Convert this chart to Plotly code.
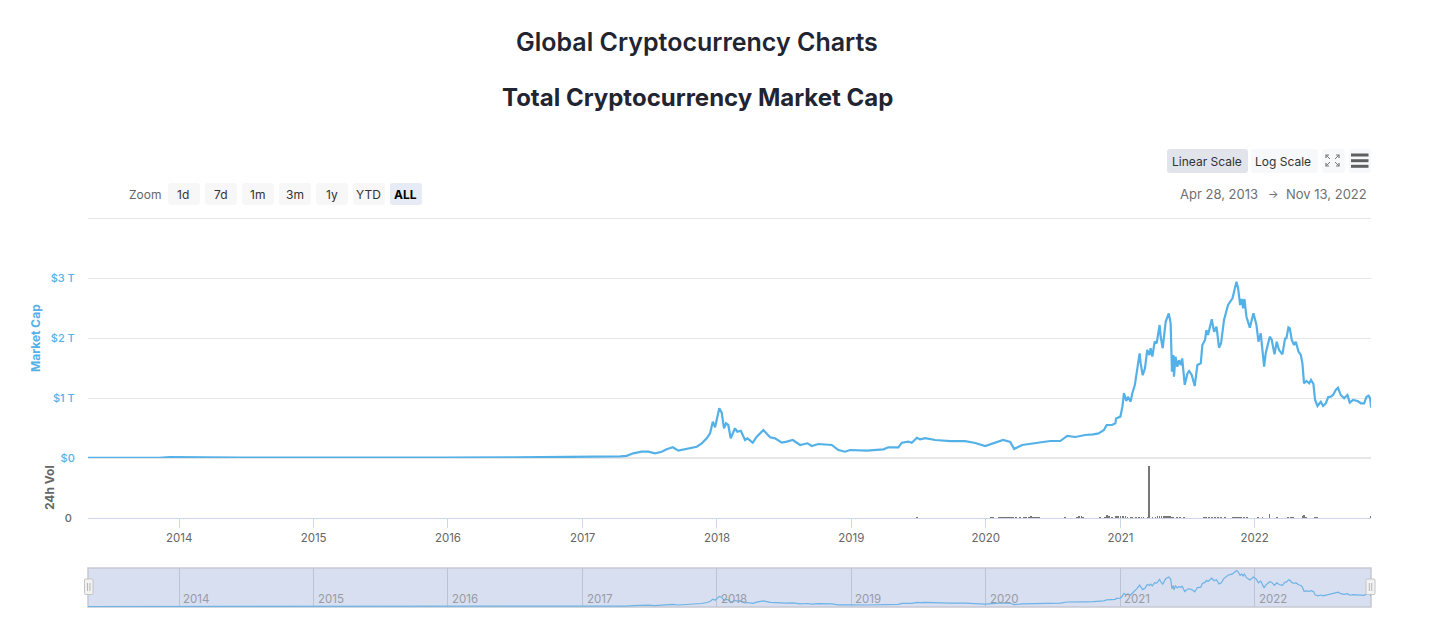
import pandas as pd
import plotly.graph_objects as go

W, H = 1443, 620

cap_year = [2013.32, 2013.5, 2013.7, 2013.85, 2013.93, 2014.0, 2014.2, 2014.45, 2014.8, 2015.0, 2015.5, 2016.0, 2016.5, 2016.9, 2017.128, 2017.28, 2017.327,
    2017.377, 2017.439, 2017.488, 2017.538, 2017.588, 2017.625, 2017.67, 2017.712, 2017.786, 2017.849, 2017.886, 2017.923, 2017.948, 2017.968, 2017.985, 2018.017, 2018.035, 2018.052, 2018.067, 2018.084, 2018.102, 2018.134, 2018.151, 2018.177, 2018.209, 2018.226, 2018.266, 2018.296, 2018.345, 2018.395, 2018.432, 2018.482, 2018.519, 2018.564, 2018.618, 2018.673, 2018.705, 2018.754, 2018.854, 2018.903, 2018.953, 2018.99, 2019.115, 2019.239, 2019.276, 2019.35, 2019.376, 2019.425, 2019.45, 2019.488, 2019.512,
    2019.55, 2019.624, 2019.736, 2019.847, 2019.922, 2019.996, 2020.07, 2020.13, 2020.183, 2020.212, 2020.272, 2020.37, 2020.48, 2020.555, 2020.607, 2020.667, 2020.741,
    2020.80, 2020.84, 2020.88, 2020.90, 2020.94, 2020.965, 2020.97, 2021.0, 2021.015, 2021.027, 2021.044, 2021.056, 2021.076, 2021.089, 2021.108, 2021.126, 2021.143, 2021.151, 2021.166, 2021.183, 2021.20, 2021.216, 2021.225, 2021.238, 2021.255, 2021.27, 2021.292, 2021.30, 2021.315, 2021.337, 2021.36, 2021.374, 2021.384, 2021.394, 2021.399, 2021.41, 2021.424, 2021.436, 2021.449, 2021.46, 2021.479, 2021.499,
    2021.511, 2021.531, 2021.553, 2021.573, 2021.598, 2021.61, 2021.63, 2021.64, 2021.652, 2021.68, 2021.697, 2021.715, 2021.734, 2021.749, 2021.771, 2021.801, 2021.834, 2021.864, 2021.876, 2021.891, 2021.903, 2021.913, 2021.923, 2021.938, 2021.963, 2021.99, 2022.013, 2022.028, 2022.045, 2022.07, 2022.082, 2022.112, 2022.127, 2022.147, 2022.164, 2022.181, 2022.206, 2022.226,
    2022.236, 2022.251, 2022.261, 2022.276, 2022.293, 2022.306, 2022.326, 2022.343, 2022.355, 2022.367, 2022.385, 2022.405, 2022.419, 2022.437, 2022.449, 2022.467, 2022.492, 2022.509, 2022.529, 2022.546, 2022.566, 2022.583, 2022.603, 2022.62, 2022.64, 2022.665, 2022.69, 2022.707, 2022.732, 2022.765, 2022.79, 2022.814, 2022.832, 2022.847, 2022.859, 2022.866]

cap_trillion = [0.0015, 0.0012, 0.0018, 0.004, 0.014, 0.011, 0.009, 0.008, 0.005, 0.005, 0.004, 0.007, 0.010, 0.013, 0.02, 0.026, 0.035,
    0.078, 0.105, 0.105, 0.078, 0.105, 0.145, 0.178, 0.122, 0.162, 0.188, 0.245, 0.328, 0.412, 0.605, 0.512, 0.828, 0.755, 0.495, 0.578, 0.55, 0.328, 0.495, 0.438, 0.455, 0.30, 0.328, 0.255, 0.355, 0.467, 0.345, 0.328, 0.255, 0.272, 0.30, 0.217, 0.245, 0.20, 0.233, 0.217, 0.133, 0.105, 0.133, 0.122, 0.145, 0.178, 0.178, 0.255, 0.272, 0.255, 0.338, 0.31,
    0.33, 0.30, 0.28, 0.28, 0.25, 0.20, 0.25, 0.30, 0.267, 0.15, 0.217, 0.25, 0.283, 0.283, 0.367, 0.35, 0.383,
    0.395, 0.41, 0.467, 0.55, 0.55, 0.58, 0.66, 0.69, 0.855, 1.08, 0.95, 1.02, 0.94, 1.08, 1.22, 1.495, 1.745, 1.58, 1.38, 1.495, 1.80, 1.717, 1.83, 1.69, 1.94, 1.91, 2.217, 2.02, 1.83, 2.27, 2.41, 2.25, 1.44, 1.717, 1.355, 1.69, 1.52, 1.63, 1.55, 1.66, 1.22, 1.41,
    1.45, 1.383, 1.2, 1.55, 1.578, 1.883, 1.967, 2.133, 2.05, 2.312, 2.105, 2.188, 1.838, 1.912, 2.30, 2.55, 2.662, 2.938, 2.828, 2.55, 2.65, 2.495, 2.65, 2.355, 2.172, 2.412, 2.217, 1.938, 2.078, 1.522, 1.745, 2.022, 1.967, 1.728, 1.938, 1.80, 1.728, 1.992,
    1.995, 2.178, 2.162, 1.967, 1.883, 1.938, 1.772, 1.717, 1.578, 1.245, 1.283, 1.245, 1.30, 1.233, 0.967, 0.867, 0.938, 0.867, 0.912, 1.012, 1.022, 1.05, 1.133, 1.172, 1.05, 0.995, 1.05, 0.922, 0.967, 0.95, 0.912, 0.912, 1.022, 1.038, 0.995, 0.84]

vol_year = [2019.49, 2020.041, 2020.056, 2020.10, 2020.115, 2020.13, 2020.145, 2020.16, 2020.175, 2020.19, 2020.205, 2020.227, 2020.257, 2020.287, 2020.302, 2020.324, 2020.339, 2020.354, 2020.369, 2020.384, 2020.399, 2020.592, 2020.682, 2020.697, 2020.712, 2020.726, 2020.853, 2020.89, 2020.905, 2020.92, 2020.942, 2020.972, 2020.987, 2021.002, 2021.017, 2021.039, 2021.054, 2021.077, 2021.091, 2021.114, 2021.136, 2021.158, 2021.173, 2021.203, 2021.212, 2021.24, 2021.262, 2021.277, 2021.292, 2021.307, 2021.322, 2021.337, 2021.352, 2021.367, 2021.382, 2021.396, 2021.419, 2021.441, 2021.471, 2021.62, 2021.635, 2021.657, 2021.68, 2021.702, 2021.724, 2021.747, 2021.777, 2021.836, 2021.851, 2021.866, 2021.881, 2021.896, 2021.918, 2021.941, 2022.022, 2022.059, 2022.111, 2022.164, 2022.246, 2022.268, 2022.283, 2022.358, 2022.369, 2022.38, 2022.447, 2022.462, 2022.864]
vol_billion = [4, 5, 5, 5, 5, 5, 6, 5, 5, 6, 5, 5, 5, 5, 5, 5, 7, 5, 6, 5, 5, 4, 5, 7, 7, 5, 5, 6, 18, 8, 5, 8, 8, 10, 7, 7, 5, 6, 6, 5, 6, 5, 5, 5, 347, 5, 6, 7, 10, 8, 11, 9, 10, 8, 5, 5, 5, 4, 4, 5, 4, 5, 5, 5, 5, 5, 4, 5, 5, 5, 5, 5, 5, 5, 4, 5, 26, 4, 5, 5, 4, 7, 18, 6, 4, 4, 7]

nav_year_ticks = [2014, 2015, 2016, 2017, 2018, 2019, 2020, 2021, 2022]
cap_ticks = [0, 1, 2, 3, 4]
cap_tick_text = ["$0", "$1 T", "$2 T", "$3 T", ""]
zoom_buttons = ["1d", "7d", "1m", "3m", "1y", "YTD", "ALL"]


def to_dates(years):
    out = []
    for y in years:
        base = int(y)
        out.append(pd.Timestamp(year=base, month=1, day=1) + pd.Timedelta(days=(y - base) * 365.25))
    return out


def fx(p):
    return p / W


def fy(p):
    return 1 - p / H


FONT = "Inter, 'Noto Sans', sans-serif"
BLUE = "#54b1e8"
cap_dates = to_dates(cap_year)
vol_dates = to_dates(vol_year)
X0, X1 = "2013-04-28", "2022-11-13"

fig = go.Figure()
fig.add_trace(go.Scatter(x=cap_dates, y=cap_trillion, mode="lines", xaxis="x", yaxis="y",
                         line=dict(color=BLUE, width=2.2), hoverinfo="skip"))
fig.add_trace(go.Bar(x=vol_dates, y=vol_billion, xaxis="x", yaxis="y2", width=2.0 * 86400000,
                     marker=dict(color="#777777", line=dict(width=0)), hoverinfo="skip"))
fig.add_trace(go.Scatter(x=cap_dates, y=cap_trillion, mode="lines", xaxis="x2", yaxis="y3",
                         line=dict(color="#6db3e6", width=1.2), hoverinfo="skip"))

shapes, annots = [], []


def text(px, py, s, size=12, color="#333", anchor="center", weight=400, angle=0, xref="paper", xval=None):
    annots.append(dict(x=fx(px) if xval is None else xval, y=fy(py), xref=xref, yref="paper", text=s,
                       showarrow=False, xanchor=anchor, yanchor="middle", textangle=angle,
                       font=dict(family=FONT, size=size, color=color, weight=weight)))


def rrect(x0, y0, x1, y1, fill, r=3, line=None, layer="below"):
    a, b, c, d = fx(x0), fy(y0), fx(x1), fy(y1)
    rx, ry = r / W, r / H
    path = (f"M{a+rx},{b} L{c-rx},{b} Q{c},{b} {c},{b-ry} L{c},{d+ry} Q{c},{d} {c-rx},{d} "
            f"L{a+rx},{d} Q{a},{d} {a},{d+ry} L{a},{b-ry} Q{a},{b} {a+rx},{b} Z")
    shapes.append(dict(type="path", path=path, xref="paper", yref="paper", fillcolor=fill, layer=layer,
                       line=dict(color=line or fill, width=1 if line else 0)))


def seg(points, color="#666", width=1.5, layer="above"):
    path = "M" + " L".join(f"{fx(a)},{fy(b)}" for a, b in points)
    shapes.append(dict(type="path", path=path, xref="paper", yref="paper", layer=layer,
                       line=dict(color=color, width=width)))


# titles
text(697, 42, "Global Cryptocurrency Charts", size=25, color="#222531", weight=600)
text(697, 97, "Total Cryptocurrency Market Cap", size=24, color="#222531", weight=700)

# scale buttons
rrect(1167, 149, 1248, 173, "#e1e4ea")
text(1207, 161, "Linear Scale", size=12, color="#333")
rrect(1251, 149, 1318, 173, "#f7f8fa")
text(1283, 161, "Log Scale", size=12, color="#333")
rrect(1322, 149, 1345, 173, "#f7f8fa")
rrect(1349, 149, 1371, 173, "#f7f8fa")
for a, b, sx, sy in [(1326, 155, 1, 1), (1339, 155, -1, 1), (1326, 166, 1, -1), (1339, 166, -1, -1)]:
    seg([(a + sx * 3, b), (a, b), (a, b + sy * 3)], color="#777", width=1.2)
    seg([(a, b), (a + sx * 4, b + sy * 4)], color="#777", width=1)
for ly in (155, 160.7, 166.3):
    seg([(1351, ly), (1368.5, ly)], color="#5f5f5f", width=3)

# range selector
text(163, 195, "Zoom", size=12, color="#666", anchor="right")
for i, label in enumerate(zoom_buttons):
    left = 168 + 37 * i
    active = label == "ALL"
    rrect(left, 183, left + 32, 205, "#e6ebf5" if active else "#f7f7f7")
    text(left + 15.5, 195, label, size=12, color="#000" if active else "#333", weight=700 if active else 400)

text(1259.5, 194, "Apr 28, 2013", size=13, color="#6f6f6f", anchor="right")
text(1273.5, 194, "\u2192", size=11, color="#6f6f6f")
text(1369, 194, "Nov 13, 2022", size=13, color="#6f6f6f", anchor="right")

# axis titles
text(35, 338, "Market Cap", size=12, color=BLUE, weight=700, angle=-90)
text(49, 488, "24h Vol", size=12, color="#666", weight=700, angle=-90)

# navigator
shapes.append(dict(type="rect", x0=fx(88), x1=fx(1371), y0=fy(607), y1=fy(568), xref="paper", yref="paper",
                   fillcolor="#d8dff0", line=dict(color="#c6c9d2", width=1.5), layer="below"))
for py_handle in [(84.5, 93), (1366, 1375)]:
    a, b = py_handle
    rrect(a, 579, b, 594.5, "#f2f2f2", r=1, line="#c4c4c4", layer="above")
    m = (a + b) / 2
    seg([(m - 1.2, 583), (m - 1.2, 591)], color="#b5b5b5", width=1)
    seg([(m + 1.2, 583), (m + 1.2, 591)], color="#b5b5b5", width=1)
for yr in nav_year_ticks:
    annots.append(dict(x=f"{yr}-01-01", y=fy(599), xref="x2", yref="paper", text=str(yr), showarrow=False,
                       xanchor="left", yanchor="middle", xshift=2,
                       font=dict(family=FONT, size=11.5, color="#999aa5")))

fig.update_layout(
    width=W, height=H, autosize=False,
    margin=dict(l=0, r=0, t=0, b=0, pad=0, autoexpand=False),
    paper_bgcolor="#ffffff", plot_bgcolor="rgba(0,0,0,0)",
    showlegend=False, barmode="overlay", bargap=0,
    font=dict(family=FONT, size=11, color="#666"),
    shapes=shapes, annotations=annots,
    xaxis=dict(domain=[fx(88), fx(1371)], range=[X0, X1], type="date", anchor="y2", showgrid=False, zeroline=False,
               showline=True, linecolor="#ccd6eb", linewidth=1, ticks="outside", ticklen=9, tickcolor="#ccd6eb",
               tickwidth=1, tickvals=[f"{y}-01-01" for y in nav_year_ticks], ticktext=[str(y) for y in nav_year_ticks],
               tickfont=dict(family=FONT, size=11.5, color="#666")),
    yaxis=dict(domain=[fy(458), fy(217)], range=[0, 4.017], anchor="x", tickvals=cap_ticks, ticktext=cap_tick_text,
               showgrid=True, gridcolor="#e6e6e6", gridwidth=1, zeroline=True, zerolinecolor="#e6e6e6", zerolinewidth=2,
               showline=False, ticks="outside", ticklen=10, tickcolor="rgba(0,0,0,0)",
               tickfont=dict(family=FONT, size=11, color=BLUE, weight=500)),
    yaxis2=dict(domain=[fy(518), fy(458)], range=[0, 400], anchor="x", tickvals=[0], ticktext=["0"], showgrid=False,
                zeroline=False, showline=False, ticks="outside", ticklen=13, tickcolor="rgba(0,0,0,0)",
                tickfont=dict(family=FONT, size=11, color="#666", weight=500)),
    xaxis2=dict(domain=[fx(88), fx(1371)], range=[X0, X1], type="date", anchor="y3", showgrid=True,
                gridcolor="#bcc3d3", gridwidth=1, zeroline=False, showline=False, showticklabels=False, ticks="",
                tickvals=[f"{y}-01-01" for y in nav_year_ticks]),
    yaxis3=dict(domain=[fy(607), fy(568)], range=[-0.04, 3.145], anchor="x2", showgrid=False, zeroline=False,
                showline=False, showticklabels=False, ticks=""),
)

fig.write_html("out.html", config=dict(displayModeBar=False), default_width="1443px", default_height="620px",
               post_script="document.documentElement.style.margin='0';document.documentElement.style.overflow='hidden';document.documentElement.style.height='620px';document.body.style.margin='0';document.body.style.height='620px';document.body.style.overflow='hidden';")
